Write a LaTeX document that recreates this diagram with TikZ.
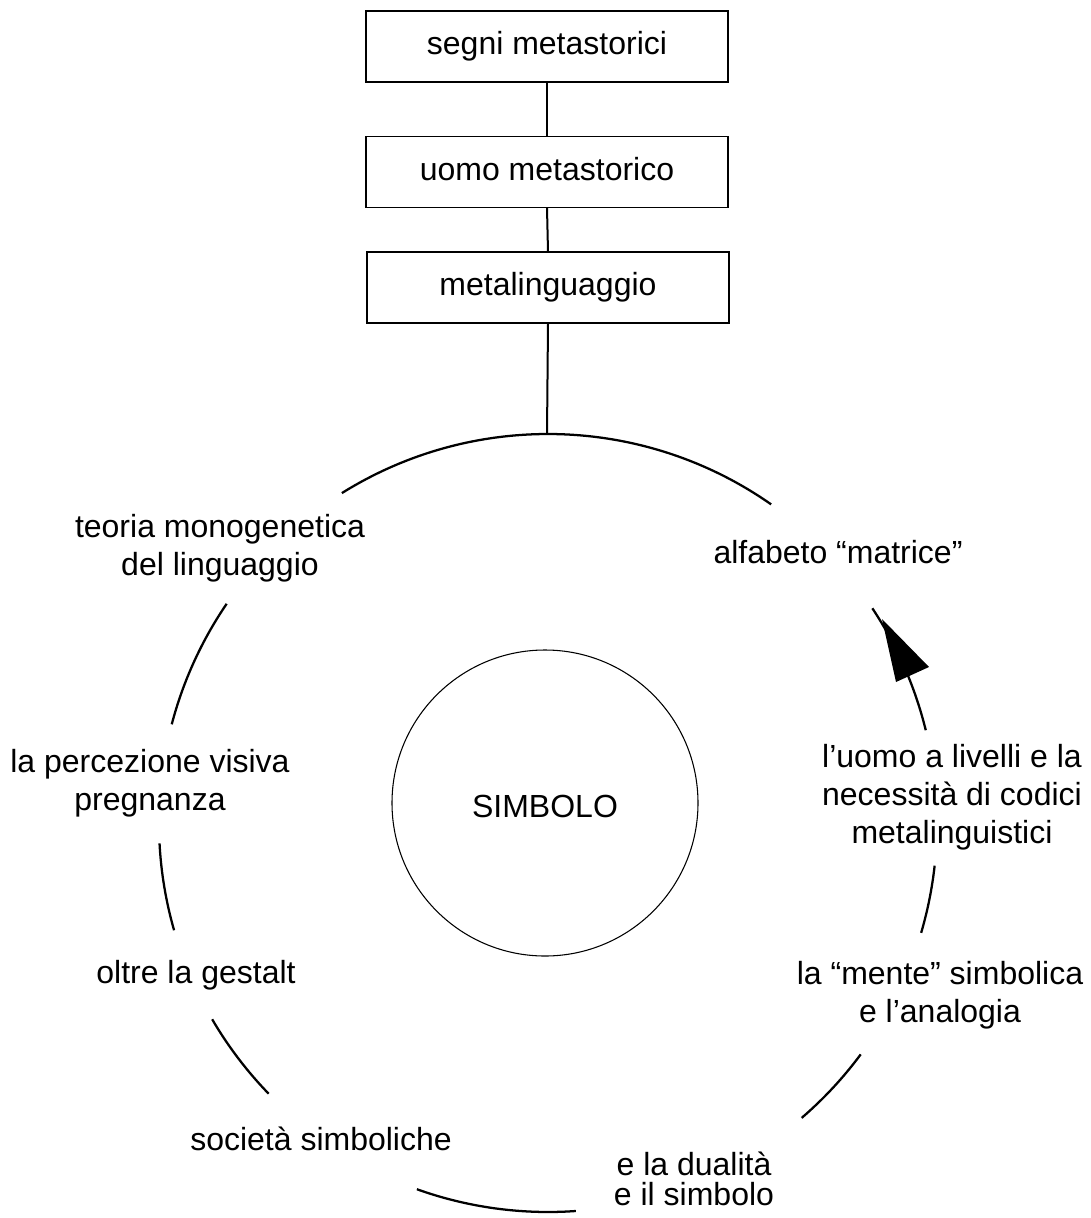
\documentclass[tikz,border=0pt]{standalone}
\usepackage{fontspec}
\setmainfont{Liberation Sans}
\usetikzlibrary{calc}
\begin{document}
\begin{tikzpicture}[x=0.75pt,y=-0.75pt,
  every node/.style={font=\fontsize{24}{28.5}\selectfont},
  topbox/.style={draw,line width=1pt,minimum width=271.5pt,minimum height=53.25pt,inner sep=0pt,text height=17.25pt,text depth=5.25pt},
  lbl/.style={align=center,anchor=base,inner sep=0pt},
  stem/.style={line width=1.5pt},
  ring/.style={line width=1.7pt},
  core/.style={draw,circle,line width=0.8pt,minimum size=229.5pt,inner sep=0pt}]
\useasboundingbox (0,0) rectangle (1091,1218);
% top chain
\node[topbox] (b1) at (547,46.5) {segni metastorici};
\node[topbox] (b2) at (547,172) {uomo metastorico};
\node[topbox] (b3) at (548,287.5) {metalinguaggio};
\coordinate (C) at (548,823);
\coordinate (ctop) at (547,434);
\draw[stem] (b1.south) -- (b2.north);
\draw[stem] (b2.south) -- (b3.north);
\draw[stem] (b3.south) -- (ctop);
% central circle
\node[core] (simb) at (545,803) {};
\node[anchor=base,inner sep=0pt] (simbt) at (545,817) {SIMBOLO};
% ring arcs (math angles negated because y points down)
\draw[ring] ($(C)+(-55:389)$) arc[start angle=-55,end angle=-122,radius=389];
\draw[ring] ($(C)+(-145.7:389)$) arc[start angle=-145.7,end angle=-165.3,radius=389];
\draw[ring] ($(C)+(-183:389)$) arc[start angle=-183,end angle=-196,radius=389];
\draw[ring] ($(C)+(-210.3:389)$) arc[start angle=-210.3,end angle=-224.1,radius=389];
\draw[ring] ($(C)+(-250.3:389)$) arc[start angle=-250.3,end angle=-274.1,radius=389];
\draw[ring] ($(C)+(-310.7:389)$) arc[start angle=-310.7,end angle=-323.5,radius=389];
\draw[ring] ($(C)+(-343.6:389)$) arc[start angle=-343.6,end angle=-353.7,radius=389];
\draw[ring] ($(C)+(-13.8:389)$) arc[start angle=-13.8,end angle=-33.5,radius=389];
\fill (882,619) -- (896,682) -- (929,667) -- cycle;
% labels around the ring (base = baseline of the last line)
\node[lbl] (t1) at (838,563) {alfabeto “matrice”};
\node[lbl] (t2) at (952,843) {l’uomo a livelli e la\\necessità di codici\\metalinguistici};
\node[lbl] (t3) at (940,1022) {la “mente” simbolica\\e l’analogia};
\node[lbl,font=\fontsize{24}{22.5}\selectfont] (t4) at (694,1205) {e la dualità\\e il simbolo};
\node[lbl] (t5) at (321,1150) {società simboliche};
\node[lbl] (t6) at (196,983) {oltre la gestalt};
\node[lbl] (t7) at (150,810) {la percezione visiva\\pregnanza};
\node[lbl] (t8) at (220,575) {teoria monogenetica\\del linguaggio};
\end{tikzpicture}
\end{document}
